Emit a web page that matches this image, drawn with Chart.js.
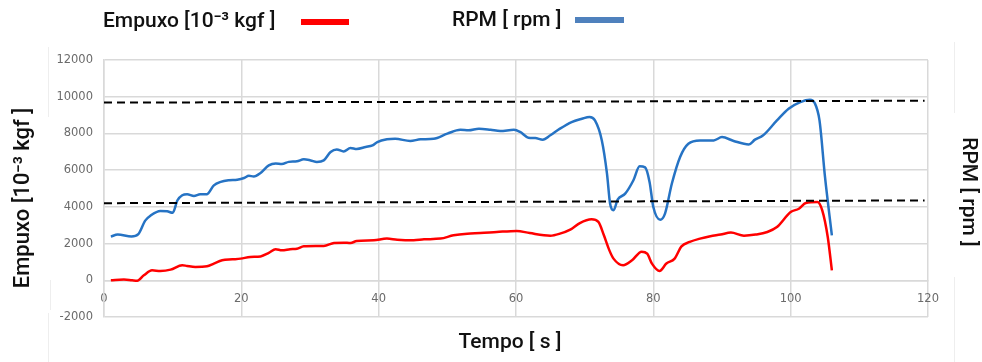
<!DOCTYPE html>
<html>
<head>
<meta charset="utf-8">
<script src="https://cdn.jsdelivr.net/npm/chart.js@4/dist/chart.umd.min.js"></script>
<style>
  html, body { margin: 0; padding: 0; background: #ffffff; }
  #wrap { width: 982px; height: 362px; }
</style>
</head>
<body>
<div id="wrap"><canvas id="c" width="982" height="362"></canvas></div>
<script>
// Ensaio de bancada: empuxo e rotação ao longo do tempo
const tempoEmpuxo = [1, 2.9, 4.1, 4.85, 5.8, 7, 8.2, 9.7, 11.4, 12.1, 13.3, 15, 16, 17.2, 18.7, 19.9, 21.3, 22.8, 24, 25, 25.9, 27.1, 28.1, 29.1, 30.8, 32, 33.5, 34.9, 35.9, 36.8, 39.3, 41.2, 42.7, 45.1, 46.6, 49, 50.9, 52.9, 54.8, 57.2, 60.1, 62, 65, 66.4, 67.9, 69.3, 71, 72, 72.8, 73.6, 74.2, 75.6, 76.9, 78.3, 79.1, 79.8, 80.9, 81.9, 83.1, 84.1, 85.3, 86.8, 88.3, 89.8, 91.3, 93.2, 94.9, 96.6, 98, 100, 101.2, 102.2, 103.9, 104.6, 105.4, 106];
const empuxo = [0, 40, 0, -20, 270, 540, 510, 580, 820, 780, 730, 760, 910, 1090, 1140, 1180, 1270, 1300, 1490, 1690, 1630, 1690, 1720, 1850, 1870, 1870, 2030, 2050, 2030, 2140, 2180, 2270, 2210, 2180, 2230, 2270, 2450, 2540, 2570, 2630, 2690, 2570, 2430, 2540, 2760, 3120, 3320, 3180, 2450, 1630, 1180, 820, 1090, 1560, 1450, 910, 510, 910, 1180, 1850, 2090, 2270, 2400, 2490, 2600, 2430, 2490, 2630, 2900, 3720, 3900, 4210, 4270, 3810, 2360, 545];

const tempoRpm = [1, 2, 4, 5, 6, 6.8, 8.2, 9.2, 10, 10.7, 11.4, 12.1, 13.1, 14, 15, 16, 17, 18.2, 19.4, 20.4, 21.1, 21.8, 22.8, 24, 25, 25.9, 26.9, 28.1, 29.1, 30.1, 31, 32, 33, 33.9, 34.9, 35.9, 36.8, 38.1, 39.1, 39.8, 41.2, 42.4, 44.6, 46.1, 48, 50, 51.9, 53.1, 54.6, 56.3, 57.7, 59.7, 60.6, 61.8, 62.8, 63.9, 65, 66.4, 68.1, 69.6, 70.7, 71.5, 72.5, 73.25, 73.7, 74.2, 74.8, 75.9, 77.1, 78, 78.8, 79.45, 80, 81, 81.7, 82.7, 83.9, 85.1, 86.8, 88.8, 90, 91.7, 93.9, 94.8, 96, 98, 99.7, 101.4, 102.8, 103.5, 104.2, 105, 106];
const rpm = [2380, 2490, 2390, 2520, 3250, 3530, 3780, 3760, 3680, 4360, 4630, 4690, 4590, 4680, 4690, 5170, 5360, 5450, 5480, 5570, 5690, 5660, 5850, 6260, 6360, 6330, 6450, 6480, 6590, 6530, 6450, 6530, 6990, 7130, 7020, 7210, 7150, 7260, 7350, 7530, 7680, 7710, 7590, 7680, 7710, 7990, 8200, 8170, 8260, 8200, 8130, 8200, 8080, 7770, 7750, 7660, 7900, 8260, 8620, 8800, 8900, 8710, 7620, 5810, 4180, 3810, 4390, 4720, 5450, 6210, 6150, 5360, 3990, 3300, 3630, 5270, 6720, 7440, 7620, 7620, 7800, 7590, 7400, 7660, 7900, 8710, 9350, 9710, 9840, 9660, 8710, 5630, 2450];

// Linhas de referência tracejadas
const tempoReferencia = [0, 119.5];
const referenciaRpm = [9680, 9780];
const referenciaEmpuxo = [4200, 4350];

const yTicks = [-2000, 0, 2000, 4000, 6000, 8000, 10000, 12000];
const xTicks = [0, 20, 40, 60, 80, 100, 120];

const rotuloEmpuxo = 'Empuxo [10\u207B\u00B3 kgf ]';
const rotuloRpm = 'RPM [ rpm ]';
const rotuloTempo = 'Tempo [ s ]';

const corEmpuxo = '#ff0000';
const corRpm = '#2673c4';
const corRpmLegenda = '#4f81bd';
const corGrade = '#d9d9d9';

const pares = (xs, ys) => xs.map((x, i) => ({ x: x, y: ys[i] }));

const titleFont = '500 21px Roboto';

const decoracao = {
  id: 'decoracao',
  afterDraw(chart) {
    const ctx = chart.ctx;
    ctx.save();
    // faint frame edges
    ctx.fillStyle = '#eeeeee';
    const segs = [[48, 47, 117], [50, 280, 310], [48, 313, 362], [954, 42, 113], [954, 277, 362]];
    segs.forEach(s => ctx.fillRect(s[0], s[1], 1, s[2] - s[1]));

    ctx.fillStyle = '#111111';
    ctx.font = titleFont;
    ctx.textBaseline = 'middle';
    ctx.textAlign = 'left';
    // legend
    ctx.fillText(rotuloEmpuxo, 103, 22);
    ctx.fillStyle = corEmpuxo;
    ctx.fillRect(301, 19, 48, 6);
    ctx.fillStyle = '#111111';
    ctx.fillText(rotuloRpm, 452, 21);
    ctx.fillStyle = corRpmLegenda;
    ctx.fillRect(575, 17, 49, 6);

    // axis titles
    ctx.fillStyle = '#111111';
    ctx.textAlign = 'center';
    ctx.fillText(rotuloTempo, 510, 343);

    ctx.save();
    ctx.translate(23, 198);
    ctx.rotate(-Math.PI / 2);
    ctx.font = '500 22px Roboto';
    ctx.fillText(rotuloEmpuxo, 0, 0);
    ctx.restore();

    ctx.save();
    ctx.translate(968, 192);
    ctx.rotate(Math.PI / 2);
    ctx.fillText(rotuloRpm, 0, 0);
    ctx.restore();
    ctx.restore();
  }
};

const tickFont = { family: 'DejaVu Sans', size: 11.5 };

new Chart(document.getElementById('c'), {
  type: 'line',
  data: {
    datasets: [
      {
        label: 'ref-rpm',
        data: pares(tempoReferencia, referenciaRpm),
        borderColor: '#000000', borderWidth: 2, borderDash: [8, 5],
        pointRadius: 0, tension: 0
      },
      {
        label: 'ref-empuxo',
        data: pares(tempoReferencia, referenciaEmpuxo),
        borderColor: '#000000', borderWidth: 2, borderDash: [8, 5],
        pointRadius: 0, tension: 0
      },
      {
        label: rotuloEmpuxo,
        data: pares(tempoEmpuxo, empuxo),
        borderColor: corEmpuxo, borderWidth: 2.5,
        pointRadius: 0, cubicInterpolationMode: 'monotone'
      },
      {
        label: rotuloRpm,
        data: pares(tempoRpm, rpm),
        borderColor: corRpm, borderWidth: 2.5,
        pointRadius: 0, cubicInterpolationMode: 'monotone'
      }
    ]
  },
  options: {
    responsive: false,
    animation: false,
    events: [],
    layout: { padding: { top: 60, right: 54, bottom: 45, left: 0 } },
    plugins: { legend: { display: false }, tooltip: { enabled: false } },
    scales: {
      x: {
        type: 'linear',
        min: 0, max: 120,
        position: { y: 0 },
        afterBuildTicks(scale) { scale.ticks = xTicks.map(v => ({ value: v })); },
        ticks: { color: '#6b6b6b', font: tickFont, padding: 12, maxRotation: 0, callback: v => String(v) },
        grid: { color: corGrade, lineWidth: 1.5, drawTicks: false },
        border: { color: corGrade, width: 1.5 }
      },
      y: {
        min: -2000, max: 12000,
        afterBuildTicks(scale) { scale.ticks = yTicks.map(v => ({ value: v })); },
        afterFit(scale) { scale.width = 104; },
        ticks: { color: '#6b6b6b', font: tickFont, padding: 11, callback: v => String(v) },
        grid: { color: corGrade, lineWidth: 1.5, drawTicks: false },
        border: { color: corGrade, width: 1.5 }
      }
    }
  },
  plugins: [decoracao]
});
</script>
</body>
</html>
